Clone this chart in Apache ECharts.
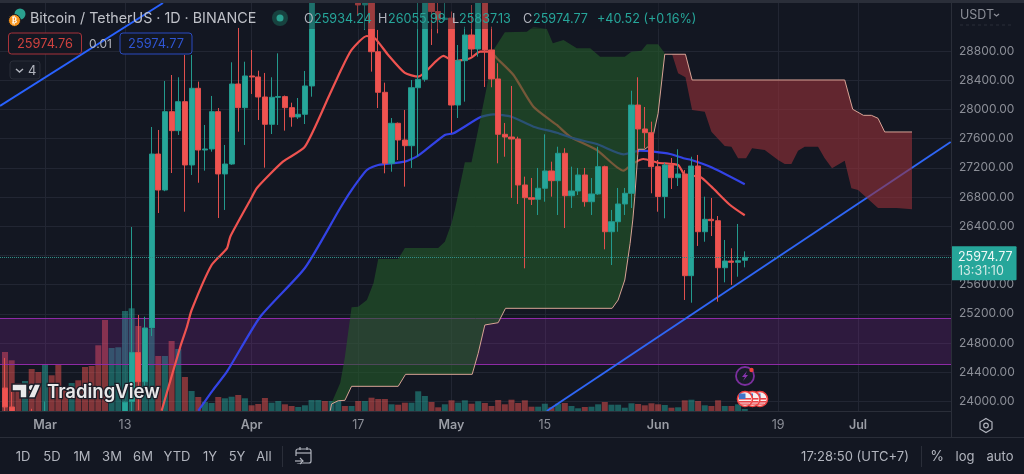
<!DOCTYPE html>
<html>
<head>
<meta charset="utf-8">
<style>html,body{margin:0;padding:0;background:#131722}#chart{width:1024px;height:474px}</style>
<script src="https://cdn.jsdelivr.net/npm/echarts@6/dist/echarts.min.js"></script>
</head>
<body>
<div id="chart"></div>
<script>
// BTC/USDT daily chart. Days are counted from 1 March 2023.
const firstCandleDay = -6;
// open, close, low, high
const candles = [
[24185,23925,23870,24596],[23925,23190,23100,24130],[23190,23160,23050,23300],[23160,23560,23070,23650],
[23560,23490,23100,23900],[23490,23140,23030,23600],[23140,23630,23020,24000],[23630,23470,23220,23800],
[23470,22350,21970,23480],[22350,22340,22250,22600],[22340,22410,22200,22540],[22410,22400,22300,22600],
[22400,22200,21930,22550],[22200,21700,21600,22270],[21700,20360,20040,21830],[20360,20190,19550,20370],
[20190,20630,20100,20800],[20630,22150,20450,22250],[22150,23990,21920,24000],[24000,24670,23870,26390],
[24670,24271,23880,25185],[24271,25007,24203,25161],[25007,27389,24897,27759],[27389,26896,26581,27718],
[26896,27969,26880,28389],[27969,27709,27129,28471],[27709,28106,27650,28440],[28106,27239,26599,28745],
[27239,28289,27102,28745],[28289,27444,26996,28380],[27444,27458,27161,27787],[27458,27969,27421,28184],
[27969,27116,26513,28019],[27116,27252,26623,27513],[27252,28348,27240,28645],[28348,28024,27695,29115],
[28024,28458,27513,28653],[28458,28444,28211,28814],[28444,28170,27855,28530],[28170,27796,27202,28499],
[27796,28166,27663,28440],[28166,28175,27787,28768],[28175,28024,27709,28190],[28024,27896,27763,28092],
[27896,27933,27869,28156],[27933,28321,27800,28526],[28321,29650,28174,29770],[29650,30230,29600,30500],
[30230,29880,29620,30480],[29880,30390,29780,30600],[30390,30490,30000,31000],[30490,30320,30100,30550],
[30320,30360,29950,30550],[30360,29430,29293,30400],[29430,30380,29088,30480],[30380,28790,28517,30420],
[28790,28234,28019,29088],[28234,27262,27125,28366],[27262,27810,27147,27882],[27810,27581,27307,27820],
[27581,27503,26942,27992],[27503,28297,27198,28403],[28297,28412,27352,30020],[28412,29470,28380,29570],
[29470,29340,28882,29570],[29340,29232,29042,29460],[29232,29250,29215,30000],[29250,28060,27677,29340],
[28060,28667,27882,28882],[28667,29019,28106,29133],[29019,28827,28722,29430],[28827,29530,28722,29850],
[29530,28814,28307,29850],[28814,28417,28303,29133],[28417,27659,27262,28632],[27659,27622,27352,27814],
[27622,27595,26787,28321],[27595,26965,26705,27626],[26965,26791,25824,27079],[26791,26769,26691,27061],
[26769,26920,26554,27198],[26920,27157,26736,27659],[27157,27024,26805,27284],[27024,27399,26554,27489],
[27399,26818,26376,27468],[26818,26883,26650,27216],[26883,27102,26828,27198],[27102,26736,26668,27198],
[26736,26842,26554,27061],[26842,27216,26830,27489],[27216,26325,26084,27230],[26325,26462,25869,26623],
[26462,26705,26325,26924],[26705,26851,26554,26924],[26851,28060,26650,28256],[28060,27732,27376,28440],
[27732,27681,27468,28033],[27681,27216,26851,27832],[27216,26807,26599,27307],[26807,27239,26509,27270],
[27239,27065,26910,27335],[27065,27116,26951,27454],[27116,25723,25390,27170],[25723,27225,25353,27352],
[27225,26325,26130,27376],[26325,26495,26188,26805],[26495,26476,26266,26787],[26476,25832,25367,26540],
[25832,25924,25632,26212],[25924,25906,25595,26098],[25906,25928,25709,26431],[25934.24,25974.77,25837.13,26055.99]
];
const volumes = [59,50.7,28,30,42,39,46.7,35.7,46.7,23,28,30.7,44,45,65.7,91,63,63.7,100,102.7,85,83,82,55,55,70,62,34,20,14,9,8,14,12.7,14.3,16,12.7,5.7,7,13,8.3,10,6.7,5,4,5.7,11,11,10,10,10,5,5,10,10,13.3,12,12,6.7,6.3,8.3,8.3,19.7,15,9,3.7,6.7,10.7,8.3,10.7,7.3,9.7,8,5,11,6.7,11.3,8,10.7,4.3,4.3,7.3,3.7,7.3,8,5,2.7,4,4.3,6.7,9,6.3,6.3,3.3,7.7,7,5.7,7.7,6.7,6,3.3,3.7,10.7,11.3,10,5.7,5,10.7,5,5,6.7,2];

const fastAverage = [[17.5,23874],[20.3,24750],[21.3,25024],[22,25253],[25,25869],[27.3,26098],[27.8,26257],[30.8,26759],[31.8,26924],[35.7,27284],[39,27489],[42.8,28221],[44.3,28517],[46,28814],[48.3,29005],[49.5,28974],[51.5,28745],[54,28499],[56,28448],[59.8,28732],[61.3,28663],[63.8,28700],[65.3,28790],[66.8,28790],[67.8,28700],[70.3,28471],[73.3,28037],[76.8,27787],[78.8,27626],[82.8,27444],[86.8,27161],[88.3,27262],[89.8,27321],[92,27270],[95,27239],[96,27102],[98.3,27079],[100,26942],[102.8,26691],[105,26550]];
const slowAverage = [[23,23874],[25.2,24157],[27.3,24408],[32.3,25161],[39,25828],[44.3,26650],[46,26896],[48.3,27170],[50,27239],[54,27284],[56,27366],[60,27650],[61.3,27673],[65.3,27892],[67.3,27933],[70,27900],[73.3,27763],[76.8,27681],[79.3,27604],[82.8,27526],[86.8,27385],[89.3,27435],[91.3,27421],[93.8,27389],[95.8,27331],[97,27307],[100,27207],[105,26975]];

const bullCloudTop = [[42.8,23874],[43,23979],[44.3,24253],[45,24609],[46,25290],[47,25298],[48.3,25390],[49.3,25623],[50,25951],[53,25951],[54,26102],[59,26102],[60,26188],[61,26440],[61.5,26623],[63,27276],[64,27276],[66.3,28311],[67.3,28814],[69,29056],[72.3,29064],[73.3,29133],[75.3,29101],[76.2,28905],[77.8,28951],[79.8,28837],[81.8,28837],[83.3,28722],[87,28722],[88,28790],[89.5,28804],[90.3,28892],[92,28892],[93,28769]];
const bullCloudBase = [[42.8,23874],[43,23966],[44,24011],[45,24016],[46,24208],[53,24208],[54.1,24372],[64.1,24372],[65,24660],[66,25048],[68,25079],[69.1,25276],[85.1,25276],[86,25390],[87,25664],[87.8,26166],[88.2,26486],[88.5,26805],[89,27454],[90,27454],[91,27526],[92,27947],[93,28755]];
const bearCloudTop = [[93,28755],[96.1,28755],[97.1,28403],[120,28403],[121.2,28002],[122.8,27919],[124,27919],[125,27878],[126,27691],[130.1,27691]];
const bearCloudBase = [[93,28755],[94.1,28755],[95,28495],[96.1,28440],[97.1,27992],[99,27969],[100,27695],[102,27499],[103,27490],[104,27331],[105.2,27331],[106.1,27468],[108,27444],[110,27307],[111,27252],[112,27252],[113,27435],[114,27490],[116,27490],[117,27331],[118.1,27194],[120,27298],[121,26920],[122,26896],[125,26650],[127.8,26650],[130.1,26632]];

const upperTrend = [[-6.75,28047],[17.7,29457]];
const lowerTrend = [[75.3,23870],[135.9,27554]];
const zoneTop = 25139, zoneBottom = 24504;
const lastPrice = 25974.77;

const dayTicks = [0,12,31,47,61,75,92,110,122];
const dayLabels = ['Mar','13','Apr','17','May','15','Jun','19','Jul'];
const priceTicks = [24000,24400,24800,25200,25600,26000,26400,26800,27200,27600,28000,28400,28800];
const rangeButtons = ['1D','5D','1M','3M','6M','YTD','1Y','5Y','All'];

const UP='#26a69a', DOWN='#ef5350', GRID='#222633', EDGE='#2a2e39', MUTED='#8b8e97', TEXT='#b2b5be';
const FONT='Inter, "Noto Sans", sans-serif';

const candleData = candles.map((c,i)=>[firstCandleDay+i,c[0],c[1],c[2],c[3]]);
const volumeData = volumes.map((v,i)=>({
  value:[firstCandleDay+i,v],
  itemStyle:{color:candles[i][1]>=candles[i][0]?'rgba(38,166,154,0.5)':'rgba(239,83,80,0.5)'}
}));

// Filled band between two edges, placed through the chart's own scales.
function cloudSeries(top,base,fill){
  return {type:'custom',xAxisIndex:0,yAxisIndex:0,z:3,clip:true,silent:true,data:[0],
    renderItem(p,api){
      const pts=top.concat(base.slice().reverse()).map(d=>api.coord(d));
      return {type:'polygon',shape:{points:pts},style:{fill}};
    }};
}
function lineSeries(data,color,width,z,extra){
  return Object.assign({type:'line',xAxisIndex:0,yAxisIndex:0,data,showSymbol:false,symbol:'none',z,silent:true,
    lineStyle:{color,width},clip:true},extra||{});
}

function txt(x,y,text,fill,size,align,weight){
  return {type:'text',x,y,z:21,silent:true,style:{text,fill,align:align||'left',verticalAlign:'middle',
    font:(weight||'normal')+' '+(size||13)+'px '+FONT}};
}
function flag(cx,cy){
  return [
    {type:'circle',x:cx,y:cy,z:22,shape:{r:7.5},style:{fill:'#f5f0f0',stroke:'#ef4040',lineWidth:1.6}},
    {type:'rect',x:cx-6,y:cy-1,z:22,shape:{width:12,height:1.6},style:{fill:'#e8444a'}},
    {type:'rect',x:cx-6,y:cy+2,z:22,shape:{width:12,height:1.6},style:{fill:'#e8444a'}},
    {type:'rect',x:cx-5.5,y:cy+4.5,z:22,shape:{width:10,height:1.2},style:{fill:'#e8444a'}},
    {type:'rect',x:cx-6,y:cy-5.5,z:22,shape:{width:6.5,height:5.5},style:{fill:'#3f74c9'}}
  ];
}

const tvMark = '#e9e9ea';
const graphics = [
  // frame and separators; the lower panel hides whatever runs below the price pane
  {type:'rect',x:0,y:411,z:19,shape:{width:1024,height:63},style:{fill:'#131722'}},
  {type:'rect',x:0,y:0,z:20,shape:{width:1024,height:3},style:{fill:EDGE}},
  {type:'rect',x:300,y:3,z:20,shape:{width:400,height:26},style:{fill:'rgba(19,23,34,0.38)'}},
  {type:'rect',x:0,y:437,z:20,shape:{width:1024,height:1},style:{fill:EDGE}},
  {type:'rect',x:951,y:3,z:20,shape:{width:1,height:434},style:{fill:EDGE}},
  {type:'rect',x:282,y:446,z:20,shape:{width:1,height:21},style:{fill:EDGE}},
  {type:'rect',x:921,y:446,z:20,shape:{width:1,height:21},style:{fill:EDGE}},
  {type:'line',z:20,shape:{x1:960,y1:25,x2:1011,y2:25},style:{stroke:EDGE,lineDash:[3,3]}},
  // symbol badges
  {type:'circle',x:20,y:14,z:21,shape:{r:5.5},style:{fill:'#2aa08f'}},
  {type:'circle',x:14.5,y:20.5,z:21,shape:{r:6},style:{fill:'#f7931a',stroke:'#131722',lineWidth:1}},
  {type:'text',x:14.5,y:20.5,z:22,style:{text:'₿',fill:'#fff',font:'bold 8px "DejaVu Sans"',align:'center',verticalAlign:'middle'}},
  txt(30,18.5,'Bitcoin / TetherUS · 1D · BINANCE','#bfc1c8',14.3),
  {type:'circle',x:280,y:18,z:21,shape:{r:8},style:{fill:'#17423f'}},
  {type:'circle',x:280,y:18,z:21,shape:{r:3.5},style:{fill:'#2aa08f'}},
  txt(304,19,'O',TEXT,12.6),txt(314,19,'25934.24',UP,12.6),
  txt(378,19,'H',TEXT,12.6),txt(388,19,'26055.99',UP,12.6),
  txt(452,19,'L',TEXT,12.6),txt(459,19,'25837.13',UP,12.6),
  txt(523,19,'C',TEXT,12.6),txt(533,19,'25974.77',UP,12.6),
  txt(597,19,'+40.52 (+0.16%)',UP,12.6),
  // bid and ask boxes
  {type:'rect',x:8.5,y:33,z:21,shape:{width:73,height:21,r:3},style:{fill:'#131722',stroke:'#a8333a',lineWidth:1}},
  txt(45,44,'25974.76','#d0423f',12.8,'center'),
  txt(89,44,'0.01',TEXT,12),
  {type:'rect',x:120,y:33,z:21,shape:{width:72,height:21,r:3},style:{fill:'#131722',stroke:'#2a4bc0',lineWidth:1}},
  txt(156,44,'25974.77','#2f55d4',12.8,'center'),
  {type:'rect',x:10,y:61,z:21,shape:{width:30,height:18,r:3},style:{fill:'#171b26',stroke:EDGE,lineWidth:1}},
  {type:'polyline',z:21,shape:{points:[[16,69],[19.5,72],[23,69]]},style:{stroke:TEXT,fill:null,lineWidth:1.4}},
  txt(28,71,'4',TEXT,13),
  // axis caption
  txt(960,15,'USDT',MUTED,12.5),
  {type:'polyline',z:21,shape:{points:[[994,14],[996.5,16],[999,14]]},style:{stroke:MUTED,fill:null,lineWidth:1.3}},
  // settings hexagon
  {type:'polygon',z:21,shape:{points:[[986,418.5],[992,422],[992,429],[986,432.5],[980,429],[980,422]]},style:{fill:null,stroke:TEXT,lineWidth:1.2}},
  {type:'circle',x:986,y:425.5,z:21,shape:{r:2.3},style:{fill:null,stroke:TEXT,lineWidth:1.2}},
  // watermark
  {type:'polygon',z:21,shape:{points:[[12,384],[27,384],[27,398],[20,398],[20,391],[12,391]]},style:{fill:tvMark,stroke:'#1a1d27',lineWidth:1.5}},
  {type:'circle',x:31.5,y:387.5,z:21,shape:{r:3.3},style:{fill:tvMark,stroke:'#1a1d27',lineWidth:1.5}},
  {type:'polygon',z:21,shape:{points:[[34.5,384],[41,384],[35,398],[28,398]]},style:{fill:tvMark,stroke:'#1a1d27',lineWidth:1.5}},
  {type:'text',x:47,y:392,z:21,style:{text:'TradingView',fill:tvMark,font:'600 18.5px '+FONT,verticalAlign:'middle',stroke:'#1a1d27',lineWidth:2.5}},
  // calendar button
  {type:'rect',x:296,y:449,z:21,shape:{width:15,height:14,r:2},style:{fill:null,stroke:TEXT,lineWidth:1.2}},
  {type:'line',z:21,shape:{x1:296,y1:453,x2:311,y2:453},style:{stroke:TEXT,lineWidth:1.2}},
  {type:'line',z:21,shape:{x1:300,y1:447,x2:300,y2:450},style:{stroke:TEXT,lineWidth:1.2}},
  {type:'line',z:21,shape:{x1:307,y1:447,x2:307,y2:450},style:{stroke:TEXT,lineWidth:1.2}},
  {type:'rect',x:294,y:456,z:21,shape:{width:9,height:7},style:{fill:'#131722'}},
  {type:'polyline',z:21,shape:{points:[[295,461],[303,461]]},style:{stroke:TEXT,fill:null,lineWidth:1.2}},
  {type:'polyline',z:21,shape:{points:[[300,458],[303,461],[300,464]]},style:{stroke:TEXT,fill:null,lineWidth:1.2}},
  // footer text
  txt(855,457,'17:28:50 (UTC+7)',TEXT,13,'center'),
  txt(937,457,'%',TEXT,14,'center'),
  txt(965,457,'log',TEXT,13,'center'),
  txt(1000,457,'auto',TEXT,13,'center'),
  // event markers
  {type:'circle',x:745,y:376,z:21,shape:{r:9},style:{fill:'#171b26',stroke:'#7b2f9e',lineWidth:1.8}},
  {type:'polygon',z:21,shape:{points:[[747,371],[742,377],[745,377],[743,381],[748,375],[745.3,375]]},style:{fill:'#8a35b0'}},
  {type:'circle',x:751.5,y:370,z:21,shape:{r:2.2},style:{fill:'#ef4040'}}
].concat(flag(760,399),flag(752.5,399),flag(745,399));

const rangeX = [23,52,82,112,143,177,210,237,264];
rangeButtons.forEach((b,i)=>graphics.push(txt(rangeX[i],457,b,TEXT,13,'center')));

const chart = echarts.init(document.getElementById('chart'),null,{renderer:'canvas'});
chart.setOption({
  animation:false,
  backgroundColor:'#131722',
  graphic:graphics,
  grid:{left:0,top:3,width:951,height:408,containLabel:false},
  xAxis:[
    // gridlines stay under the marks
    {type:'value',min:-6.753,max:135.95,axisLine:{show:false},axisLabel:{show:false},
     axisTick:{show:false,customValues:dayTicks},
     splitLine:{show:true,lineStyle:{color:GRID}}},
    // date labels sit above the lower panel
    {type:'value',position:'bottom',min:-6.753,max:135.95,z:30,
     axisLine:{show:true,lineStyle:{color:EDGE}},
     axisTick:{show:false,customValues:dayTicks},
     splitLine:{show:false},
     axisLabel:{customValues:dayTicks,margin:8,color:MUTED,fontFamily:FONT,
      formatter:v=>{
        const s=dayLabels[dayTicks.indexOf(v)]||'';
        return /^\d+$/.test(s)?'{n|'+s+'}':'{m|'+s+'}';
      },
      rich:{m:{color:'#9a9da5',fontSize:12.5,fontWeight:600,fontFamily:FONT},n:{color:MUTED,fontSize:12.5,fontFamily:FONT}}}}
  ],
  yAxis:[
    {type:'value',position:'right',min:23870,max:29457,
     axisLine:{show:false},axisTick:{show:false,customValues:priceTicks},
     splitLine:{show:true,lineStyle:{color:GRID}},
     axisLabel:{customValues:priceTicks,color:MUTED,fontSize:12,fontFamily:FONT,margin:8,formatter:v=>v.toFixed(2)}},
    {type:'value',min:0,max:408,show:false}
  ],
  series:[
    {type:'bar',xAxisIndex:0,yAxisIndex:1,data:volumeData,barWidth:6,z:1,silent:true},
    lineSeries(fastAverage,'#ef5350',2.2,2,{smooth:0.2}),
    lineSeries(slowAverage,'#3343e6',2.2,2,{smooth:0.2}),
    lineSeries(upperTrend,'#2962ff',2,2),
    lineSeries(lowerTrend,'#2f66f5',2,2,{
      markArea:{silent:true,z:2,itemStyle:{color:'rgba(156,39,176,0.2)'},data:[[{yAxis:zoneTop},{yAxis:zoneBottom}]]},
      markLine:{silent:true,z:2,symbol:'none',label:{show:false},lineStyle:{color:'#8e2aa6',type:'solid',width:1},
        data:[{yAxis:zoneTop},{yAxis:zoneBottom}]}
    }),
    cloudSeries(bullCloudTop,bullCloudBase,'rgba(36,91,42,0.6)'),
    cloudSeries(bearCloudTop,bearCloudBase,'rgba(152,48,57,0.6)'),
    lineSeries(bullCloudBase,'#d9a396',1,3),
    lineSeries(bearCloudTop,'#d9a396',1,3),
    {type:'candlestick',xAxisIndex:0,yAxisIndex:0,data:candleData,barWidth:5.6,z:5,silent:true,clip:true,
      itemStyle:{color:UP,color0:DOWN,borderColor:'#23998d',borderColor0:'#e04f4d',borderWidth:1}},
    lineSeries([[firstCandleDay,lastPrice]],UP,1,6,{
      markLine:{silent:true,z:7,symbol:'none',lineStyle:{color:'#2f8f87',type:'dotted',width:1},
        label:{show:true,position:'end',distance:0,offset:[0,6],backgroundColor:UP,padding:[3,4,2,7],borderRadius:1,
          formatter:()=>'{a|25974.77}\n{b|13:31:10}',
          rich:{a:{color:'#eef8f6',fontSize:12.5,lineHeight:15,fontFamily:FONT},b:{color:'#cfe9e5',fontSize:12.5,lineHeight:14,fontFamily:FONT}}},
        data:[{yAxis:lastPrice}]}
    })
  ]
});
</script>
</body>
</html>
